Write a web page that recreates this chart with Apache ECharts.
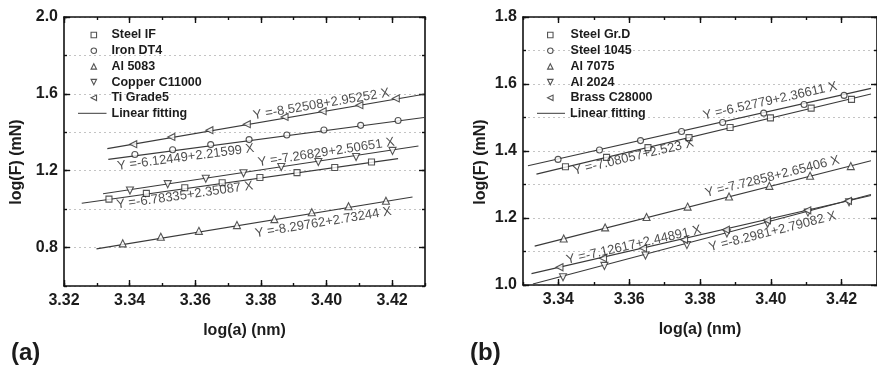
<!DOCTYPE html>
<html>
<head>
<meta charset="utf-8">
<script src="https://cdn.jsdelivr.net/npm/echarts@6/dist/echarts.min.js"></script>
<style>
html,body{margin:0;padding:0;background:#fff;}
#chart{width:877px;height:366px;}
</style>
</head>
<body>
<div id="chart"></div>
<script>
// ---------- DATA ----------
// Panel (a)
const steelIF_X = [3.3337,3.3451,3.3568,3.3682,3.3797,3.3910,3.4025,3.4137];
const steelIF_Y = [1.052,1.082,1.111,1.137,1.165,1.190,1.217,1.245];
const ironDT4_X = [3.3416,3.3531,3.3647,3.3764,3.3879,3.3992,3.4104,3.4218];
const ironDT4_Y = [1.284,1.309,1.336,1.362,1.386,1.412,1.436,1.461];
const al5083_X  = [3.3379,3.3495,3.3611,3.3727,3.3841,3.3955,3.4067,3.4181];
const al5083_Y  = [0.822,0.856,0.887,0.917,0.948,0.984,1.015,1.044];
const copper_X  = [3.3401,3.3516,3.3632,3.3747,3.3862,3.3975,3.4090,3.4201];
const copper_Y  = [1.097,1.130,1.158,1.187,1.219,1.245,1.271,1.303];
const ti5_X     = [3.3411,3.3527,3.3643,3.3757,3.3872,3.3988,3.4100,3.4211];
const ti5_Y     = [1.338,1.376,1.411,1.442,1.480,1.510,1.541,1.576];

const fitSteelIF_X = [3.3254,3.4218], fitSteelIF_Y = [1.031,1.263];
const fitIron_X    = [3.3335,3.4297], fitIron_Y    = [1.259,1.477];
const fitAl5083_X  = [3.3299,3.4262], fitAl5083_Y  = [0.793,1.063];
const fitCopper_X  = [3.3319,3.4280], fitCopper_Y  = [1.080,1.329];
const fitTi_X      = [3.3332,3.4297], fitTi_Y      = [1.315,1.598];

const eqTextA = ['Y =-8.52508+2.95252 X','Y =-6.12449+2.21599 X','Y =-7.26829+2.50651 X','Y =-6.78335+2.35087 X','Y =-8.29762+2.73244 X'];

const xTicksA = [3.32,3.34,3.36,3.38,3.40,3.42];
const yTicksA = [0.8,1.2,1.6,2.0];

// Panel (b)
const steelGrD_X  = [3.3420,3.3536,3.3653,3.3769,3.3885,3.3999,3.4114,3.4228];
const steelGrD_Y  = [1.353,1.381,1.410,1.440,1.470,1.499,1.528,1.554];
const steel1045_X = [3.3399,3.3516,3.3632,3.3748,3.3864,3.3980,3.4094,3.4207];
const steel1045_Y = [1.375,1.403,1.431,1.458,1.485,1.513,1.539,1.566];
const al7075_X    = [3.3415,3.3532,3.3649,3.3765,3.3882,3.3996,3.4111,3.4226];
const al7075_Y    = [1.139,1.172,1.203,1.234,1.264,1.296,1.326,1.355];
const al2024_X    = [3.3413,3.3530,3.3646,3.3763,3.3876,3.3991,3.4105,3.4221];
const al2024_Y    = [1.023,1.057,1.088,1.119,1.154,1.183,1.216,1.247];
const brass_X     = [3.3403,3.3526,3.3639,3.3755,3.3873,3.3989,3.4103,3.4218];
const brass_Y     = [1.053,1.080,1.110,1.135,1.165,1.193,1.223,1.251];

const fitGrD_X  = [3.3338,3.4283], fitGrD_Y  = [1.331,1.570];
const fit1045_X = [3.3314,3.4283], fit1045_Y = [1.356,1.587];
const fit7075_X = [3.3333,3.4283], fit7075_Y = [1.116,1.371];
const fit2024_X = [3.3328,3.4283], fit2024_Y = [1.003,1.270];
const fitBrass_X= [3.3324,3.4283], fitBrass_Y= [1.034,1.267];

const eqTextB = ['Y =-6.52779+2.36611 X','Y =-7.08057+2.523 X','Y =-7.72858+2.65406 X','Y =-7.12617+2.44891 X','Y =-8.2981+2.79082 X'];

const xTicksB = [3.34,3.36,3.38,3.40,3.42];
const yTicksB = [1.0,1.2,1.4,1.6,1.8];

const legendA = ['Steel IF','Iron DT4','Al 5083','Copper C11000','Ti Grade5'];
const legendB = ['Steel Gr.D','Steel 1045','Al 7075','Al 2024','Brass C28000'];
const fitName = 'Linear fitting';
const xTitle = 'log(a) (nm)';
const yTitle = 'log(F) (mN)';

// ---------- LAYOUT / STYLE ----------
const FONT = '"Liberation Sans", Arial, sans-serif';
const INK = '#1c1c1c';
const LINE = '#3a3a3a';
const zip = (xs, ys) => xs.map((x, i) => [x, ys[i]]);
const SYM = {
  square: 'rect',
  circle: 'circle',
  up: 'path://M1,0 L2,2 L0,2 Z',
  down: 'path://M0,0 L2,0 L1,2 Z',
  left: 'path://M2,0 L2,2 L0,1 Z'
};

// equation label anchors (data coords) and rotation (deg)
const eqPosA = [[3.3984,1.5462,9.6],[3.3571,1.2697,7.5],[3.3999,1.2958,8.6],[3.3568,1.0715,8.0],[3.3990,0.9306,9.3]];
const eqPosB = [[3.3998,1.5493,12.6],[3.3612,1.3821,13.3],[3.4004,1.3233,14.1],[3.3613,1.1194,12.8],[3.4005,1.1591,14.3]];

const chart = echarts.init(document.getElementById('chart'), null, {renderer:'canvas'});

const labelStyle = {show: true, fontFamily: FONT, fontWeight: 'bold', fontSize: 16, color: INK, margin: 7};
const axisLineStyle = {color: '#111', width: 1.6};
const tickLine = {color: '#111', width: 1.4};
const gridSplit = {show: true, lineStyle: {type: [2, 3], color: '#c4c4c4', width: 1}};
const nameStyle = {fontFamily: FONT, fontWeight: 'bold', fontSize: 16, color: INK};

// a "major" axis (line, long ticks, labels at given values) and a "minor" axis (short ticks at interval)
function majorAxis(gi, pos, min, max, ticks, withLabels, extra) {
  return Object.assign({
    type: 'value', gridIndex: gi, position: pos, min: min, max: max,
    axisLine: {show: true, onZero: false, lineStyle: axisLineStyle},
    axisTick: {show: true, inside: true, length: 6, lineStyle: tickLine, customValues: ticks},
    axisLabel: withLabels
      ? Object.assign({}, labelStyle, {customValues: ticks, formatter: v => v.toFixed(pos === 'bottom' ? 2 : 1)})
      : {show: false},
    splitLine: {show: false}
  }, extra || {});
}
function minorAxis(gi, pos, min, max, step, split) {
  return {
    type: 'value', gridIndex: gi, position: pos, min: min, max: max, interval: step,
    axisLine: {show: false, onZero: false},
    axisTick: {show: true, inside: true, length: 3, lineStyle: tickLine},
    axisLabel: {show: false},
    splitLine: split ? gridSplit : {show: false}
  };
}

const xAxes = [
  majorAxis(0, 'bottom', 3.32, 3.43, xTicksA, true, {name: xTitle, nameLocation: 'middle', nameGap: 37, nameTextStyle: nameStyle}),
  minorAxis(0, 'bottom', 3.32, 3.43, 0.01, false),
  majorAxis(0, 'top', 3.32, 3.43, xTicksA, false),
  minorAxis(0, 'top', 3.32, 3.43, 0.01, false),
  majorAxis(1, 'bottom', 3.33, 3.43, xTicksB, true, {name: xTitle, nameLocation: 'middle', nameGap: 37, nameTextStyle: nameStyle}),
  minorAxis(1, 'bottom', 3.33, 3.43, 0.01, false),
  majorAxis(1, 'top', 3.33, 3.43, xTicksB, false),
  minorAxis(1, 'top', 3.33, 3.43, 0.01, false)
];
const yAxes = [
  majorAxis(0, 'left', 0.6, 2.0, yTicksA, true, {axisLabel: Object.assign({}, labelStyle, {margin: 6, customValues: yTicksA, formatter: v => v.toFixed(1)})}),
  minorAxis(0, 'left', 0.6, 2.0, 0.2, true),
  majorAxis(0, 'right', 0.6, 2.0, yTicksA, false),
  minorAxis(0, 'right', 0.6, 2.0, 0.2, false),
  majorAxis(1, 'left', 1.0, 1.8, yTicksB, true, {axisLabel: Object.assign({}, labelStyle, {margin: 6, customValues: yTicksB, formatter: v => v.toFixed(1)})}),
  minorAxis(1, 'left', 1.0, 1.8, 0.1, true),
  majorAxis(1, 'right', 1.0, 1.8, yTicksB, false),
  minorAxis(1, 'right', 1.0, 1.8, 0.1, false)
];

const markStyle = {color: '#ffffff', borderColor: '#2a2a2a', borderWidth: 1.1};
function pts(name, xs, ys, shape, panel) {
  return {
    type: 'scatter', name: name, data: zip(xs, ys),
    xAxisIndex: panel * 4, yAxisIndex: panel * 4,
    symbol: SYM[shape], symbolSize: shape === 'square' || shape === 'circle' ? 6 : 7,
    itemStyle: markStyle, z: 5, silent: true
  };
}
function fit(xs, ys, panel) {
  return {
    type: 'line', name: fitName, data: zip(xs, ys),
    xAxisIndex: panel * 4, yAxisIndex: panel * 4,
    symbol: 'none', lineStyle: {color: LINE, width: 1.1}, itemStyle: {color: LINE},
    z: 3, silent: true
  };
}
function eqs(texts, pos, panel) {
  return {
    type: 'scatter', name: 'eq' + panel, xAxisIndex: panel * 4, yAxisIndex: panel * 4,
    symbolSize: 0, silent: true, z: 6,
    data: texts.map((t, i) => ({
      value: [pos[i][0], pos[i][1]],
      label: {show: true, position: 'inside', rotate: pos[i][2], formatter: t,
        fontFamily: FONT, fontSize: 13, color: '#222', align: 'center', verticalAlign: 'middle'}
    }))
  };
}

const legendText = {fontFamily: FONT, fontWeight: 'bold', fontSize: 12.5, color: INK, lineHeight: 14};
function symLegend(names, left, pad) {
  return {data: names, left: left, top: 28, padding: 0, orient: 'vertical', itemWidth: 5.5, itemHeight: 5.5,
    itemGap: 1.7, selectedMode: false, itemStyle: markStyle,
    textStyle: Object.assign({}, legendText, {padding: [0, 0, 0, pad]})};
}
function lineLegend(left, w) {
  return {data: [{name: fitName, icon: 'rect'}], left: left, top: 106.3, padding: 0, orient: 'vertical',
    itemWidth: w, itemHeight: 1, selectedMode: false,
    itemStyle: {color: LINE, borderWidth: 0}, lineStyle: {width: 0},
    textStyle: legendText};
}
const titleFont = {fontFamily: FONT, fontWeight: 'bold', fontSize: 16, fill: INK, textAlign: 'center', textVerticalAlign: 'middle'};

const option = {
  animation: false,
  backgroundColor: '#ffffff',
  title: [
    {text: '(a)', left: 6, top: 336, textStyle: {fontFamily: FONT, fontWeight: 'bold', fontSize: 24, color: INK}},
    {text: '(b)', left: 465, top: 336, textStyle: {fontFamily: FONT, fontWeight: 'bold', fontSize: 24, color: INK}}
  ],
  graphic: [
    {type: 'text', x: 17, y: 162, rotation: Math.PI / 2, style: Object.assign({text: yTitle}, titleFont)},
    {type: 'text', x: 481, y: 162, rotation: Math.PI / 2, style: Object.assign({text: yTitle}, titleFont)}
  ],
  grid: [
    {left: 64, top: 17, width: 361, height: 269},
    {left: 523, top: 17, width: 358, height: 268}
  ],
  legend: [
    symLegend(legendA, 90.5, 9.9),
    lineLegend(78, 28.5),
    symLegend(legendB, 547, 12.5),
    lineLegend(537, 28)
  ],
  xAxis: xAxes,
  yAxis: yAxes,
  series: [
    fit(fitSteelIF_X, fitSteelIF_Y, 0),
    fit(fitIron_X, fitIron_Y, 0),
    fit(fitAl5083_X, fitAl5083_Y, 0),
    fit(fitCopper_X, fitCopper_Y, 0),
    fit(fitTi_X, fitTi_Y, 0),
    pts('Steel IF', steelIF_X, steelIF_Y, 'square', 0),
    pts('Iron DT4', ironDT4_X, ironDT4_Y, 'circle', 0),
    pts('Al 5083', al5083_X, al5083_Y, 'up', 0),
    pts('Copper C11000', copper_X, copper_Y, 'down', 0),
    pts('Ti Grade5', ti5_X, ti5_Y, 'left', 0),
    eqs(eqTextA, eqPosA, 0),

    fit(fitGrD_X, fitGrD_Y, 1),
    fit(fit1045_X, fit1045_Y, 1),
    fit(fit7075_X, fit7075_Y, 1),
    fit(fit2024_X, fit2024_Y, 1),
    fit(fitBrass_X, fitBrass_Y, 1),
    pts('Steel Gr.D', steelGrD_X, steelGrD_Y, 'square', 1),
    pts('Steel 1045', steel1045_X, steel1045_Y, 'circle', 1),
    pts('Al 7075', al7075_X, al7075_Y, 'up', 1),
    pts('Al 2024', al2024_X, al2024_Y, 'down', 1),
    pts('Brass C28000', brass_X, brass_Y, 'left', 1),
    eqs(eqTextB, eqPosB, 1)
  ]
};
chart.setOption(option);
</script>
</body>
</html>
